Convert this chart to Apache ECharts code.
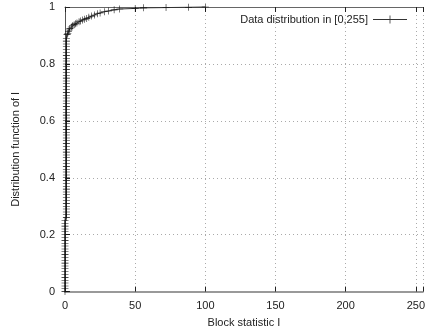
<!DOCTYPE html>
<html>
<head>
<meta charset="utf-8">
<script src="https://cdn.jsdelivr.net/npm/echarts@6/dist/echarts.min.js"></script>
<style>
html,body{margin:0;padding:0;background:#fff;}
#chart{width:428px;height:335px;}
</style>
</head>
<body>
<div id="chart"></div>
<script>
// Block statistic I (x) and cumulative distribution (y)
const statValues = [
  0,0,0,0,0,0,0,0,0,0,
  0,0,0,0,0,0,0,0,0,0,
  0,0,0,0,0,0,
  1,1,1,1,1,1,1,1,1,1,
  1,1,1,1,1,1,1,1,1,1,
  1,1,1,1,1,1,1,1,1,1,
  1,1,1,1,1,1,1,1,1,1,
  1,1,1,1,1,1,1,1,1,1,
  1,1,1,1,1,1,1,1,1,1,
  1,1,1,1,
  1.5,2,2.5,3,3.5,4.5,5.5,6.5,7.5,8.5,
  10,11,12.5,14,15.5,17,19,21,23,25,
  28,31,35,39,50,56,72,88,100
];
const cdfValues = [
  0.00,0.01,0.02,0.03,0.04,0.05,0.06,0.07,0.08,0.09,
  0.10,0.11,0.12,0.13,0.14,0.15,0.16,0.17,0.18,0.19,
  0.20,0.21,0.22,0.23,0.24,0.25,
  0.26,0.27,0.28,0.29,0.30,0.31,0.32,0.33,0.34,0.35,
  0.36,0.37,0.38,0.39,0.40,0.41,0.42,0.43,0.44,0.45,
  0.46,0.47,0.48,0.49,0.50,0.51,0.52,0.53,0.54,0.55,
  0.56,0.57,0.58,0.59,0.60,0.61,0.62,0.63,0.64,0.65,
  0.66,0.67,0.68,0.69,0.70,0.71,0.72,0.73,0.74,0.75,
  0.76,0.77,0.78,0.79,0.80,0.81,0.82,0.83,0.84,0.85,
  0.86,0.87,0.88,0.89,
  0.903,0.908,0.913,0.919,0.924,0.930,0.934,0.938,0.941,0.944,
  0.948,0.951,0.954,0.957,0.960,0.964,0.968,0.972,0.976,0.979,
  0.983,0.986,0.990,0.993,0.995,0.997,0.998,0.999,1.000
];
const xTicks = [0, 50, 100, 150, 200, 250];
const yTicks = [0, 0.2, 0.4, 0.6, 0.8, 1];
const seriesName = 'Data distribution in [0,255]';
const xTitle = 'Block statistic I';
const yTitle = 'Distribution function of I';

const points = statValues.map((x, i) => [x, cdfValues[i]]);
const plus = 'path://M0,4.6H10V5.4H0Z M4.6,0H5.4V10H4.6Z';
const legendIcon = 'path://M0,4.6H34V5.4H0Z M16.6,1H17.4V9H16.6Z';
const font = 'Liberation Sans, Arial, sans-serif';

const chart = echarts.init(document.getElementById('chart'), null, {renderer: 'canvas'});
chart.setOption({
  animation: false,
  backgroundColor: '#fff',
  textStyle: {fontFamily: font},
  grid: {left: 65, top: 7, width: 363.5, height: 284.6, containLabel: false},
  legend: {
    right: 16, top: 9, align: 'right', orient: 'horizontal',
    itemWidth: 34, itemHeight: 8,
    icon: legendIcon,
    itemStyle: {color: '#333', borderWidth: 0},
    textStyle: {fontFamily: font, fontSize: 11, color: '#222'},
    data: [{name: seriesName, icon: legendIcon}]
  },
  xAxis: [{
    type: 'value', min: 0, max: 255, interval: 50,
    name: xTitle, nameLocation: 'middle', nameGap: 26,
    nameTextStyle: {fontFamily: font, fontSize: 11, color: '#222'},
    axisLine: {show: true, lineStyle: {color: '#999', width: 2}},
    axisTick: {show: true, inside: true, length: 5, lineStyle: {color: '#222'}},
    axisLabel: {fontFamily: font, fontSize: 11, color: '#222', margin: 9,
      showMaxLabel: true,
      formatter: v => (xTicks.indexOf(v) >= 0 ? String(v) : '')},
    splitLine: {show: true, lineStyle: {color: '#aaa', type: [1, 3], width: 1}}
  }, {
    type: 'value', position: 'top', min: 0, max: 255, interval: 50,
    axisLine: {show: true, onZero: false, lineStyle: {color: '#666', width: 1}},
    axisTick: {show: true, inside: true, length: 5, lineStyle: {color: '#222'}},
    axisLabel: {show: false},
    splitLine: {show: false}
  }],
  yAxis: [{
    type: 'value', min: 0, max: 1, interval: 0.2,
    name: yTitle, nameLocation: 'middle', nameGap: 44, nameRotate: 90,
    nameTextStyle: {fontFamily: font, fontSize: 11, color: '#222'},
    axisLine: {show: true, lineStyle: {color: '#555', width: 1}},
    axisTick: {show: true, inside: true, length: 5, lineStyle: {color: '#222'}},
    axisLabel: {fontFamily: font, fontSize: 11, color: '#222', margin: 10,
      formatter: v => String(parseFloat(v.toFixed(1)))},
    splitLine: {show: true, lineStyle: {color: '#aaa', type: [1, 3], width: 1}}
  }],
  series: [{
    name: seriesName,
    type: 'line',
    data: points,
    symbol: plus,
    symbolSize: 7,
    showAllSymbol: true,
    z: 10,
    itemStyle: {color: '#111'},
    lineStyle: {color: '#333', width: 1},
    clip: false
  }]
});
</script>
</body>
</html>
